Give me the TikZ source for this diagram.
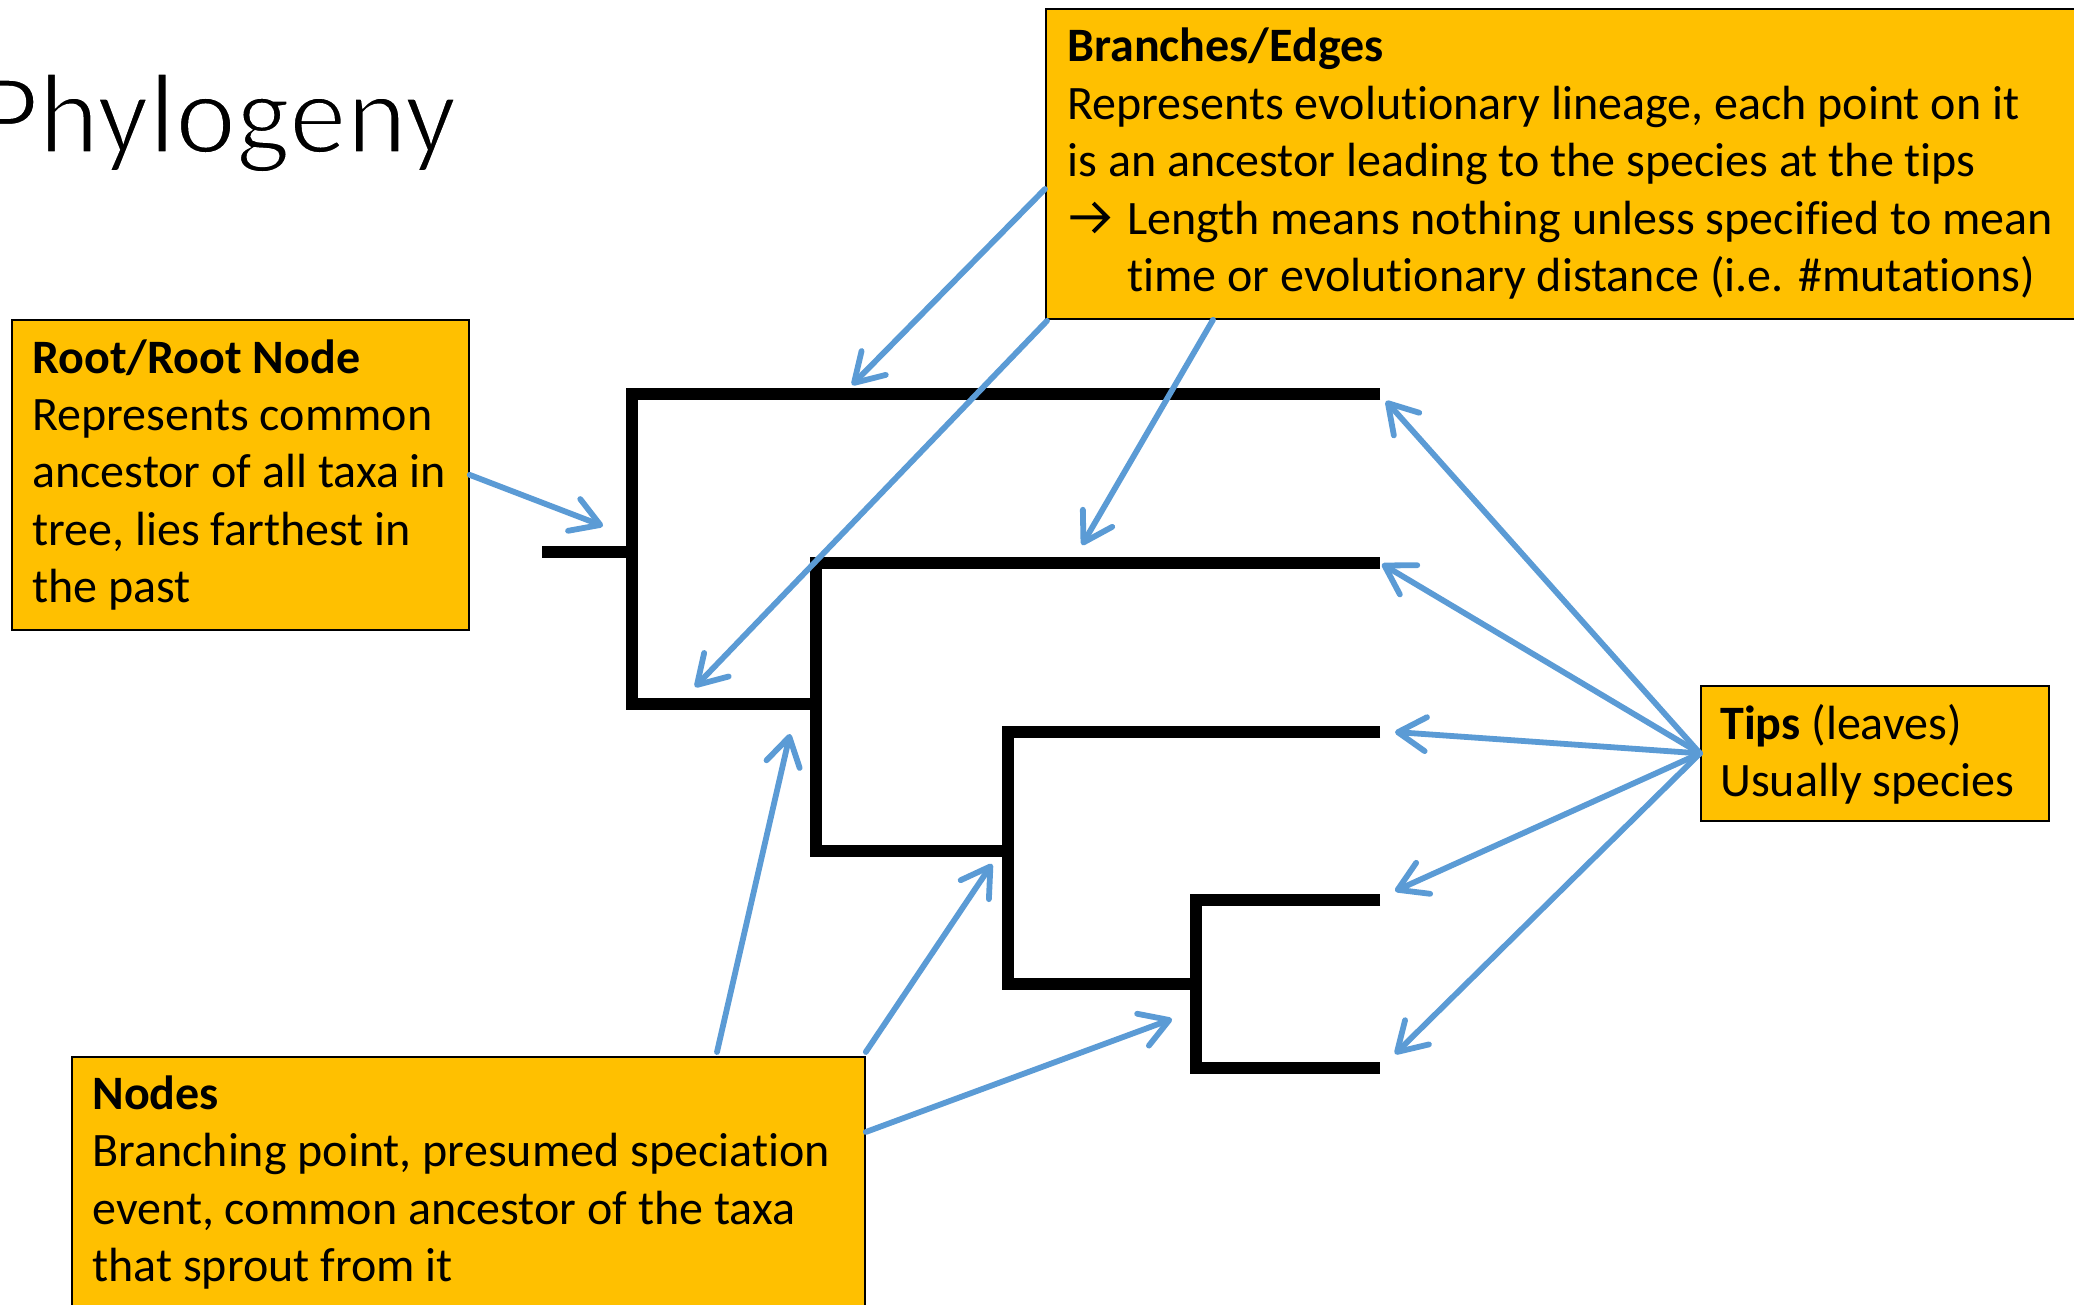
\documentclass[tikz,border=0pt]{standalone}
\usepackage{fontspec}
\setmainfont[Ligatures=NoCommon]{Carlito}
\usetikzlibrary{arrows.meta,calc}

\definecolor{calloutgold}{HTML}{FFC000}
\definecolor{pointerblue}{HTML}{5B9BD5}

\tikzset{
  infobox/.style={draw=black, line width=0.9pt, fill=calloutgold, rectangle,
    anchor=north west, inner sep=0pt},
  boxtext/.style={anchor=base west, inner sep=0pt, text=black},
  branch/.style={draw=black, line width=5.6pt, line join=miter},
  pointer/.style={draw=pointerblue, line width=2.9pt, line cap=round,
    -{Straight Barb[length=14pt, width=17pt, line width=2.9pt, round]}},
}

% multi-line callout text whose baseline is the first line's baseline
\newcommand{\callouttext}[1]{%
  \parbox[t]{520pt}{\raggedright\fontsize{24}{28.75}\selectfont #1}}

% thin-stroked title lettering: glyphs are filled, then edged in white
\newcommand{\lighttext}[1]{%
  \special{pdf:literal direct q 2 Tr 1 1 1 RG 1.5 w}#1\special{pdf:literal direct Q}}

% bullet arrow with an open right-angled head
\newcommand{\bulletarrow}{%
  \tikz[baseline=0pt, x=1pt, y=1pt]
    \draw[line width=2pt, line join=miter, line cap=butt]
      (0,8.5) -- (18.6,8.5) (11.4,15.7) -- (18.6,8.5) -- (11.4,1.3);}

\begin{document}
\begin{tikzpicture}[x=0.5pt, y=-0.5pt]
  \useasboundingbox (0,0) rectangle (2074,1305);
  \clip (0,0) rectangle (2074,1305);

  % title
  \node[anchor=base east, inner sep=0pt, font=\fontsize{57.5}{60}\selectfont]
    (title) at (457,153) {\lighttext{Phylogeny}};

  % the tree
  \draw[branch] (542,552) -- (632,552);
  \draw[branch] (1380,394) -- (632,394) -- (632,704) -- (816,704);
  \draw[branch] (1380,563) -- (816,563) -- (816,851) -- (1008,851);
  \draw[branch] (1380,732) -- (1008,732) -- (1008,984) -- (1196,984);
  \draw[branch] (1380,900) -- (1196,900) -- (1196,1068) -- (1380,1068);

  % callout boxes
  \node[infobox, minimum width=228.5pt, minimum height=155pt] (root) at (11,319) {};
  \node[boxtext] (roottext) at (32,373) {\callouttext{%
    \textbf{Root/Root Node}\\
    Represents common\\
    ancestor of all taxa in\\
    tree, lies farthest in\\
    the past}};

  \node[infobox, minimum width=530pt, minimum height=155pt] (branches) at (1045,8) {};
  \node[boxtext] (branchtext) at (1067,62) {\callouttext{%
    \textbf{Branches/Edges}\\
    Represents evolutionary lineage, each point on it\\
    is an ancestor leading to the species at the tips\\
    \makebox[30pt][l]{\hspace*{0.5pt}\bulletarrow}Length means nothing unless specified to mean\\
    \hspace*{30pt}time or evolutionary distance (i.e. \#mutations)}};

  \node[infobox, minimum width=174pt, minimum height=67.5pt] (tips) at (1700,685) {};
  \node[boxtext] (tipstext) at (1720,739) {\callouttext{%
    \textbf{Tips} (leaves)\\
    Usually species}};

  \node[infobox, minimum width=396.5pt, minimum height=140pt] (nodes) at (71,1056) {};
  \node[boxtext] (nodestext) at (92,1109) {\callouttext{%
    \textbf{Nodes}\\
    Branching point, presumed speciation\\
    event, common ancestor of the taxa\\
    that sprout from it}};

  % points on the tree that the callouts point at
  \coordinate (rootpt)  at (603,526);
  \coordinate (topbr)   at (852,385);
  \coordinate (innerbr) at (695,687);
  \coordinate (secbr)   at (1082,545);
  \coordinate (tipA)    at (1386,401);
  \coordinate (tipB)    at (1382,564);
  \coordinate (tipC)    at (1395,732);
  \coordinate (tipD)    at (1395,891);
  \coordinate (tipE)    at (1395,1054);
  \coordinate (nodeA)   at (790,734);
  \coordinate (nodeB)   at (992,864);
  \coordinate (nodeC)   at (1172,1019);

  % pointers
  \draw[pointer] (root.east) -- (rootpt);
  \draw[pointer] ($(branches.north west)+(0,181)$) -- (topbr);
  \draw[pointer] ($(branches.south west)+(2,1)$) -- (innerbr);
  \draw[pointer] ($(branches.south west)+(168,0)$) -- (secbr);
  \foreach \t in {tipA,tipB,tipC,tipD,tipE}
    \draw[pointer] (tips.west) -- (\t);
  \draw[pointer] ($(nodes.north west)+(646,-4)$) -- (nodeA);
  \draw[pointer] ($(nodes.north east)+(0,-4)$) -- (nodeB);
  \draw[pointer] ($(nodes.north east)+(0,76)$) -- (nodeC);
\end{tikzpicture}
\end{document}
